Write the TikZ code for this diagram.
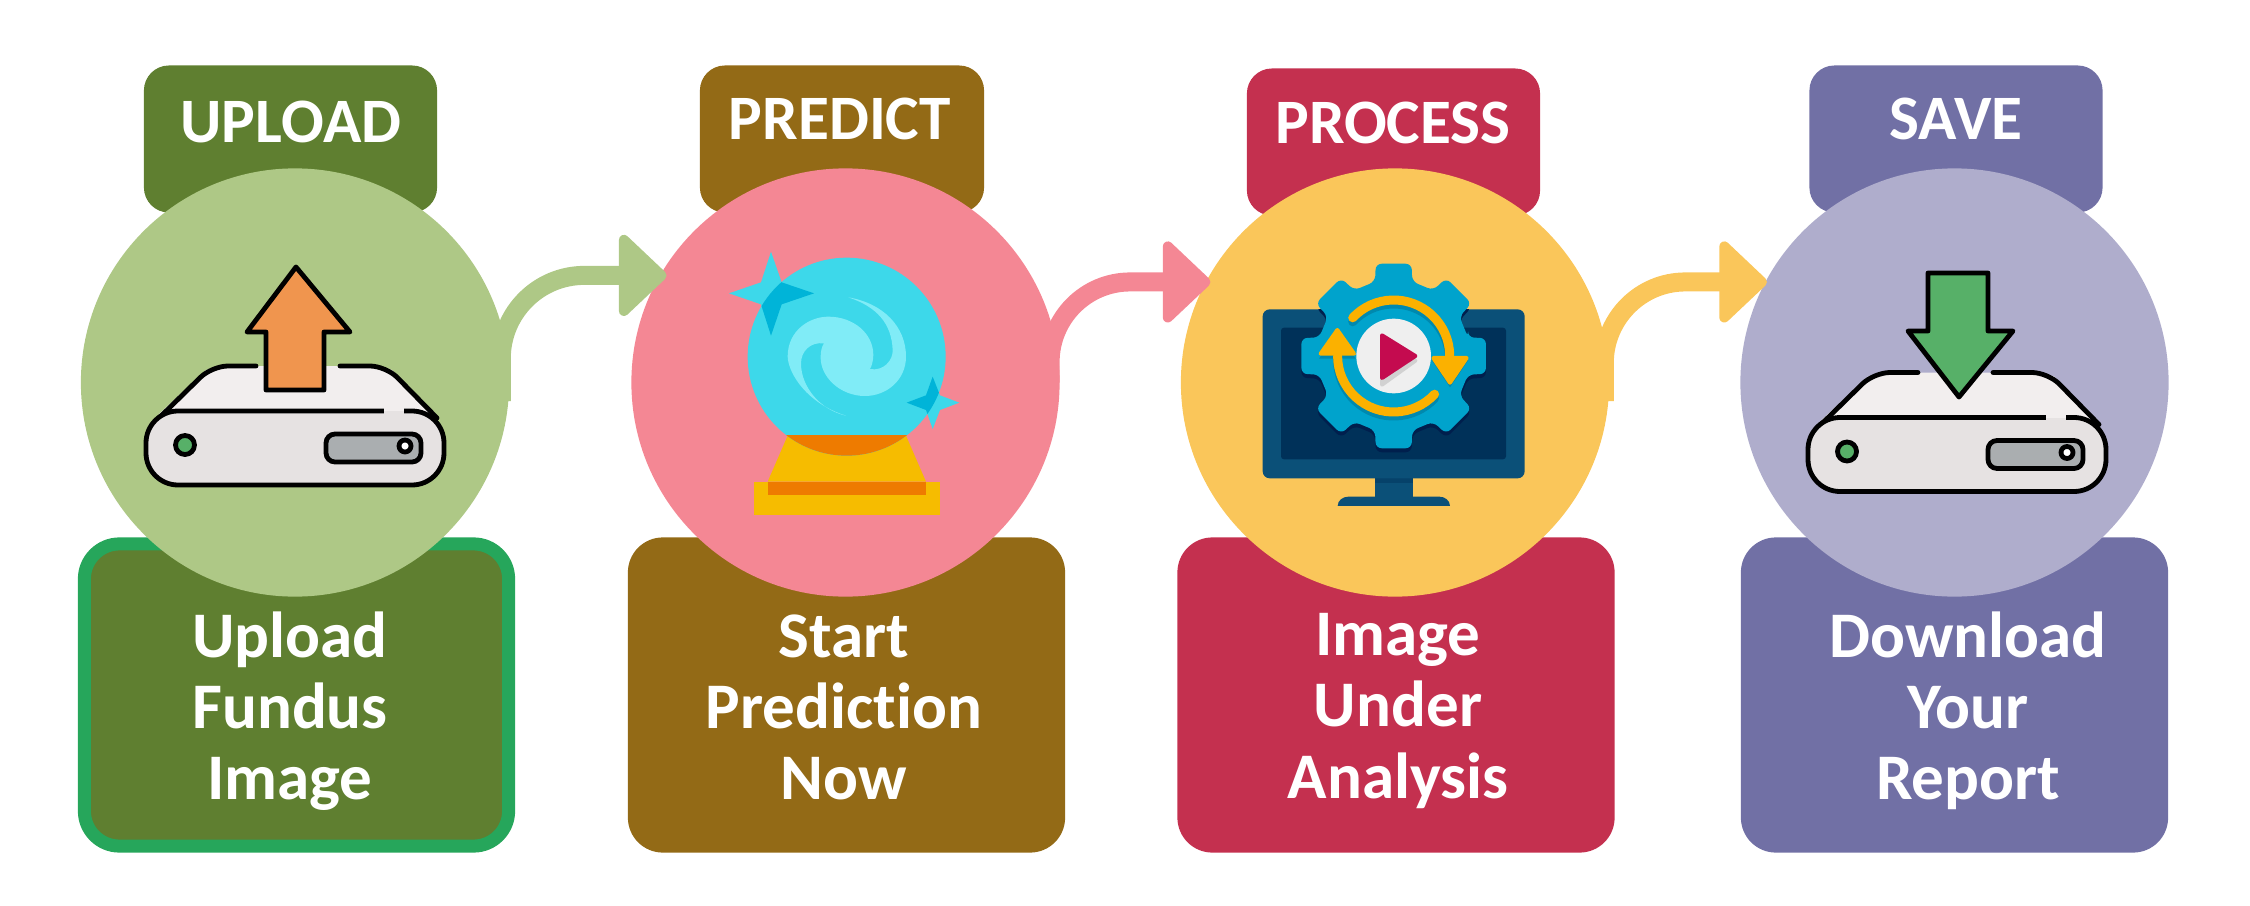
\documentclass[tikz,border=0pt]{standalone}
\usepackage{fontspec}
\setmainfont[Ligatures=NoCommon]{Carlito}
\usetikzlibrary{arrows.meta,calc}
\definecolor{gA}{HTML}{5F7F30}\definecolor{gB}{HTML}{AEC886}\definecolor{gE}{HTML}{26A65B}
\definecolor{bA}{HTML}{936A16}\definecolor{bB}{HTML}{F48794}
\definecolor{rA}{HTML}{C4304F}\definecolor{rB}{HTML}{FAC65A}
\definecolor{pA}{HTML}{7170A5}\definecolor{pB}{HTML}{AFADCC}
\definecolor{hdT}{HTML}{F2EEEE}\definecolor{hdB}{HTML}{E6E2E2}\definecolor{hdS}{HTML}{AAAEB0}
\definecolor{upO}{HTML}{F0954E}\definecolor{dnG}{HTML}{57B068}
\definecolor{skyA}{HTML}{3DD8EA}\definecolor{skyB}{HTML}{00B4D8}\definecolor{skyC}{HTML}{80ECF7}
\definecolor{ambA}{HTML}{F6BC00}\definecolor{ambB}{HTML}{EE7B00}
\definecolor{monA}{HTML}{0B5078}\definecolor{monB}{HTML}{003159}\definecolor{monC}{HTML}{001F4D}
\definecolor{gearA}{HTML}{00A3CC}\definecolor{gearB}{HTML}{0089AE}\definecolor{arcY}{HTML}{FBB100}
\definecolor{playR}{HTML}{C40B4F}\definecolor{diskW}{HTML}{EFEFEF}
\tikzset{
  tagbox/.style={fill=#1,rounded corners=0.25cm,minimum width=2.93cm,minimum height=1.47cm,inner sep=0,outer sep=0},
  bodybox/.style={fill=#1,rounded corners=0.35cm,minimum width=4.37cm,minimum height=3.15cm,inner sep=0,outer sep=0},
  disc/.style={circle,fill=#1,minimum size=4.28cm,inner sep=0,outer sep=0},
  tagtext/.style={text=white,font=\fontsize{18}{20}\selectfont\bfseries,inner sep=0},
  bodytext/.style={text=white,font=\fontsize{18.5}{20.2}\selectfont\bfseries,align=center,inner sep=0},
  flowarrow/.style={draw=#1,line width=0.19cm,-{Triangle[length=0.5cm,width=0.92cm,round,line width=0.1cm]}},
  inkline/.style={draw=black,line width=0.048cm,line join=round,line cap=round},
  softhead/.style={fill=#1,draw=#1,line width=0.04cm,line join=round}
}
\newcommand{\harddrive}[3]{% x shift, y shift, top gap
  \begin{scope}[shift={(#1,#2)}]
    \fill[hdT] (159,414) -- (206,370) -- (218,366) -- (380,366) -- (392,370) -- (436,414) -- cycle;
    \draw[inkline,rounded corners=0.16cm] (256,366) -- (212,366) -- (159,418);
    \draw[inkline,rounded corners=0.16cm] (#3,366) -- (386,366) -- (437,418);
    \draw[inkline,fill=hdB,rounded corners=0.32cm] (146,411) rectangle (444,485);
    \fill[hdT] (384,407) rectangle (404,411);
    \fill[hdB] (384,411) rectangle (404,415);
    \draw[inkline,fill=dnG] (185,445) circle[radius=9.5];
    \draw[inkline,fill=hdS,rounded corners=0.09cm] (326,434) rectangle (421,462);
    \draw[inkline,fill=white] (405,446) circle[radius=6];
  \end{scope}
}
\begin{document}
\begin{tikzpicture}[x=0.01cm,y=0.01cm,yscale=-1]
\useasboundingbox (0,0) rectangle (2250,906);
% label boxes
\node[tagbox=gA] (t1) at (290.5,139) {};
\node[tagbox=bA,minimum width=2.84cm] (t2) at (842,139) {};
\node[tagbox=rA] (t3) at (1393.5,142) {};
\node[tagbox=pA] (t4) at (1956,139) {};
\node[bodybox=gA,draw=gE,line width=0.13cm,minimum width=4.24cm,minimum height=3.02cm] (b1) at (296.5,695) {};
\node[bodybox=bA] (b2) at (846.5,695) {};
\node[bodybox=rA] (b3) at (1396,695) {};
\node[bodybox=pA,minimum width=4.27cm] (b4) at (1954.5,695) {};
% discs
\node[disc=gB] (c1) at (295,382.5) {};
\node[disc=bB] (c2) at (845.5,382.5) {};
\node[disc=rB] (c3) at (1395,382.5) {};
\node[disc=pB] (c4) at (1954.5,382.5) {};
% arrow tip positions on the next disc
\coordinate (e1) at ([xshift=0.065cm]c2.150.9);
\coordinate (e2) at ([xshift=0.045cm]c3.152.3);
\coordinate (e3) at ([xshift=0.015cm]c4.152);
\coordinate (s1) at ([xshift=-0.07cm]c1.-5);
\coordinate (s2) at ([xshift=-0.095cm]c2.east);
\coordinate (s3) at ([xshift=-0.04cm]c3.-5);
% connectors
\draw[flowarrow=gB] (s1) -- ($(s1 |- e1)+(0,83)$) arc[start angle=180,end angle=270,radius=0.83cm] -- (e1);
\draw[flowarrow=bB] (s2) -- ($(s2 |- e2)+(0,80)$) arc[start angle=180,end angle=270,radius=0.80cm] -- (e2);
\draw[flowarrow=rB] (s3) -- ($(s3 |- e3)+(0,81)$) arc[start angle=180,end angle=270,radius=0.81cm] -- (e3);
% texts
\node[tagtext] (l1) at (291,122) {UPLOAD};
\node[tagtext] (l2) at (840,119) {PREDICT};
\node[tagtext] (l3) at (1393,123) {PROCESS};
\node[tagtext] (l4) at (1956,119) {SAVE};
\node[bodytext] (x1) at (290,711) {Upload\\Fundus\\Image};
\node[bodytext] (x2) at (844,707) {Start\\Prediction\\Now};
\node[bodytext] (x3) at (1398,711) {Image\\Under\\Analysis};
\node[bodytext] (x4) at (1968,711) {Download\\Your\\Report};
% upload icon
\harddrive{0}{0}{340}
\draw[inkline,fill=upO] (296,267) -- (350,332) -- (324,332) -- (324,390) -- (266,390) -- (266,332) -- (247,332) -- cycle;
% crystal ball icon
\begin{scope}[shift={(620,160)},scale=0.33333]
  \fill[ambA] (503,827) -- (858,827) -- (918,965) -- (443,965) -- cycle;
  \fill[ambA] (403,965) rectangle (959,1065);
  \fill[ambB] (443,965) rectangle (918,1005);
  \fill[skyA] (680,590) circle[radius=297];
  \begin{scope}
    \clip (300,827) rectangle (1100,1000);
    \fill[ambB] (680,590) circle[radius=297];
  \end{scope}
  \fill[skyC] (678,767) .. controls (560,730) and (505,640) .. (503,590)
    .. controls (503,510) and (570,470) .. (625,470)
    .. controls (700,470) and (760,520) .. (760,585)
    .. controls (760,600) and (755,620) .. (750,627)
    .. controls (790,635) and (820,600) .. (818,570)
    .. controls (815,490) and (770,440) .. (685,412)
    .. controls (790,430) and (858,500) .. (858,590)
    .. controls (858,660) and (800,708) .. (735,708)
    .. controls (660,708) and (600,650) .. (602,590)
    .. controls (602,575) and (605,560) .. (612,550)
    .. controls (570,545) and (543,575) .. (543,610)
    .. controls (543,680) and (600,750) .. (678,767) -- cycle;
  \fill[skyA] (453,275) -- (485,367) -- (582,400) -- (485,433) -- (453,527) -- (423,433) -- (327,400) -- (423,367) -- cycle;
  \fill[skyA] (938,650) -- (960,706) -- (1018,728) -- (960,750) -- (938,807) -- (918,750) -- (860,728) -- (918,706) -- cycle;
  \begin{scope}
    \clip (680,590) circle[radius=297];
    \fill[skyB] (453,275) -- (485,367) -- (582,400) -- (485,433) -- (453,527) -- (423,433) -- (327,400) -- (423,367) -- cycle;
    \fill[skyB] (938,650) -- (960,706) -- (1018,728) -- (960,750) -- (938,807) -- (918,750) -- (860,728) -- (918,706) -- cycle;
  \end{scope}
\end{scope}
% monitor icon
\begin{scope}[shift={(1190,220)},scale=0.33333]
  \fill[monA] (555,770) rectangle (668,835);
  \fill[monB,opacity=.45] (555,775) rectangle (668,790);
  \fill[monA] (443,858) to[out=-90,in=180] (475,830) -- (748,830) to[out=0,in=-90] (780,858) -- cycle;
  \fill[monA,rounded corners=0.07cm] (218,268) rectangle (1004,775);
  \fill[monB,rounded corners=0.03cm] (273,323) rectangle (948,718);
  \begin{scope}
    \clip (218,268) rectangle (1004,775);
    \begin{scope}[shift={(611,420)}]
      \fill[monC,rounded corners=0.06cm] (-14:230)
        \foreach \a in {0,45,...,315} { -- (\a-14:230) -- (\a-11:282) -- (\a+11:282) -- (\a+14:230)} -- cycle;
    \end{scope}
  \end{scope}
  \begin{scope}[shift={(611,408)}]
    \fill[gearA,rounded corners=0.06cm] (-14:230)
      \foreach \a in {0,45,...,315} { -- (\a-14:230) -- (\a-11:282) -- (\a+11:282) -- (\a+14:230)} -- cycle;
    % arc shadows
    \draw[gearB,line width=0.09cm,line cap=round] (-137:168) ++(0,12) arc[start angle=-137,end angle=0,radius=1.68cm];
    \draw[gearB,line width=0.09cm,line cap=round] (43:168) ++(0,12) arc[start angle=43,end angle=180,radius=1.68cm];
    \fill[gearB] (114,12) -- (224,12) -- (169,94) -- cycle;
    \fill[gearB] (-224,8) -- (-114,8) -- (-169,-72) -- cycle;
    % arcs
    \draw[arcY,line width=0.09cm,line cap=round] (-137:168) arc[start angle=-137,end angle=0,radius=1.68cm];
    \draw[arcY,line width=0.09cm,line cap=round] (43:168) arc[start angle=43,end angle=180,radius=1.68cm];
    \draw[softhead=arcY] (119,6) -- (219,6) -- (169,80) -- cycle;
    \draw[softhead=arcY] (-219,-7) -- (-119,-7) -- (-169,-78) -- cycle;
    \fill[diskW] (0,0) circle[radius=112];
    \draw[softhead=black!18] (-35,-52) -- (65,14) -- (-35,86) -- cycle;
    \draw[softhead=playR] (-35,-62) -- (65,0) -- (-35,66) -- cycle;
  \end{scope}
\end{scope}
% save icon
\harddrive{1662}{6.5}{331}
\draw[inkline,fill=dnG] (1928,273) -- (1988,273) -- (1988,331) -- (2013,331) -- (1959,397) -- (1908,331) -- (1928,331) -- cycle;
\end{tikzpicture}
\end{document}
